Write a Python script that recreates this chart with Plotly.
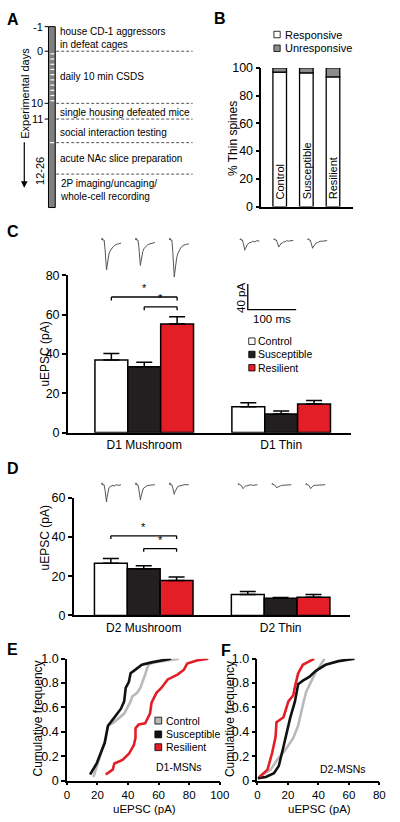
import plotly.graph_objects as go

W, H = 400, 822
FONT = "Liberation Sans, Arial, Helvetica, sans-serif"


def px(x):
    return x / W


def py(y):
    return 1 - y / H


# ------------------------------------------------------------------ data
groups = ["Control", "Susceptible", "Resilient"]
bar_fill = ["#ffffff", "#231f20", "#e41e26"]
cdf_color = ["#b9b9b9", "#111111", "#e41e26"]

# Panel A (schematic timeline)
day_tick_labels = ["-1", "0", "10", "11"]
day_range_label = "12-26"
csds_days = [1, 2, 3, 4, 5, 6, 7, 8, 9, 10]
timeline_events = [
    "house CD-1 aggressors<br>in defeat cages",
    "daily 10 min CSDS",
    "single housing defeated mice",
    "social interaction testing",
    "acute NAc slice preparation",
    "2P imaging/uncaging/<br>whole-cell recording",
]

# Panel B: % thin spines
b_responsive = [97.0, 96.5, 93.5]
b_unresponsive = [3.0, 3.5, 6.5]
b_legend = ["Responsive", "Unresponsive"]

# Panel C: D1 uEPSC (pA)
c_categories = ["D1 Mushroom", "D1 Thin"]
c_mean = [[37.0, 13.2], [33.5, 9.5], [55.3, 14.5]]
c_sem = [[3.3, 2.0], [2.3, 1.5], [3.7, 1.8]]

# Panel D: D2 uEPSC (pA)
d_categories = ["D2 Mushroom", "D2 Thin"]
d_mean = [[26.5, 10.7], [23.7, 8.7], [17.8, 9.2]]
d_sem = [[2.5, 1.5], [1.6, 0.4], [1.7, 1.5]]

# Example uEPSC traces (time in ms, current in pA)
trace_t = [0, 1, 2, 5, 7, 9, 10, 11, 13, 15, 17, 20, 23, 26, 30, 35, 40]
c_mush_traces = [
    [0, 3, 0, 0, -15, -40, -47, -42, -30, -22, -18, -14, -11, -9, -7, -6, -5],
    [0, 3, 0, 0, -12, -34, -40, -35, -25, -18, -14, -11, -9, -7, -6, -5, -4],
    [0, 3, 0, 0, -18, -50, -58, -52, -38, -28, -22, -17, -13, -10, -8, -7, -6],
]
c_thin_traces = [
    [0, 2, 0, 0, -6, -13, -16, -13, -11, -7, -6, -4, -4, -2, -3, -1, -2],
    [0, 2, 0, 0, -4, -9, -11, -9, -8, -5, -5, -3, -3, -1, -2, -1, -1],
    [0, 2, 0, 0, -5, -11, -13, -11, -9, -6, -5, -4, -3, -2, -2, -1, -1],
]
d_mush_traces = [
    [0, 3, 0, 0, -9, -22, -27, -20, -10, -5, -3, -2, -1, -2, 0, -1, 0],
    [0, 3, 0, 0, -8, -20, -24, -20, -13, -8, -5, -3, -2, -1, -1, 0, 0],
    [0, 3, 0, 0, -5, -12, -15, -12, -8, -5, -3, -2, -1, -1, 0, 0, 0],
]
d_thin_traces = [
    [0, 2, 0, 0, -2, -5, -6, -5, -3, -2, -2, -1, -1, 0, -1, 0, 0],
    [0, 2, 0, 0, -2, -4, -5, -4, -3, -2, -2, -1, -1, -1, 0, 0, 0],
    [0, 2, 0, 0, -2, -5, -6, -5, -3, -2, -1, -1, -1, 0, 0, 0, 0],
]
scale_pa = 40
scale_ms = 100

# Panel E: D1-MSNs cumulative distributions
e_x = [
    [17.4, 20, 23, 25.5, 27, 31, 37.5, 41.7, 42.8, 45.9, 48.1, 51.2, 53.3, 57, 68, 73.4],
    [15.2, 19.5, 22.6, 24.8, 25.8, 26.9, 30.0, 32.2, 35.4, 37.5, 38.5, 40.6, 41.7, 43.8, 49.1, 55.4, 61.8, 68.1],
    [25.4, 30, 31.1, 36.4, 40.6, 43.8, 44.9, 44.9, 47, 51.2, 54.4, 55.4, 58.6, 61.8, 66, 72.4, 76.6, 78.7, 85, 92.5],
]
e_y = [
    [0.03, 0.14, 0.25, 0.35, 0.45, 0.48, 0.55, 0.65, 0.69, 0.72, 0.76, 0.87, 0.95, 0.97, 0.99, 1.0],
    [0.05, 0.14, 0.24, 0.31, 0.38, 0.45, 0.50, 0.54, 0.59, 0.65, 0.76, 0.81, 0.88, 0.90, 0.95, 0.97, 0.985, 1.0],
    [0.05, 0.09, 0.14, 0.17, 0.22, 0.29, 0.35, 0.43, 0.46, 0.47, 0.55, 0.64, 0.72, 0.76, 0.83, 0.87, 0.91, 0.96, 0.985, 1.0],
]
# Panel F: D2-MSNs cumulative distributions
f_x = [
    [0.2, 8.7, 12.9, 18.2, 23.5, 26.7, 29.8, 32, 35.1, 38.3, 41.5, 44],
    [0.2, 5.5, 10.8, 14, 17.1, 19.3, 21.4, 24.6, 26.7, 29.8, 34, 38.3, 44.7, 53.2, 63.7],
    [1.3, 6.6, 9.7, 11.9, 12.5, 17.1, 20.3, 23.5, 24.6, 26.7, 29.8, 37.3],
]
f_y = [
    [0.02, 0.09, 0.17, 0.25, 0.35, 0.45, 0.62, 0.73, 0.81, 0.89, 0.95, 1.0],
    [0.02, 0.03, 0.06, 0.12, 0.28, 0.41, 0.51, 0.65, 0.79, 0.82, 0.85, 0.90, 0.95, 0.98, 1.0],
    [0.03, 0.09, 0.23, 0.36, 0.48, 0.52, 0.65, 0.70, 0.77, 0.88, 0.95, 1.0],
]

# ------------------------------------------------------------------ figure
fig = go.Figure()
shapes = []
anns = []


def ann(text, x, y, size=10, xanchor="left", yanchor="middle", angle=0, bold=False, ref=("paper", "paper")):
    anns.append(dict(
        text=f"<b>{text}</b>" if bold else text, x=x, y=y, xref=ref[0], yref=ref[1],
        xanchor=xanchor, yanchor=yanchor, textangle=angle, showarrow=False,
        font=dict(family=FONT, size=size, color="black"), borderpad=0, align="left"))


def pline(x0, y0, x1, y1, color="black", width=1, dash=None):
    shapes.append(dict(type="line", xref="paper", yref="paper", x0=px(x0), y0=py(y0),
                       x1=px(x1), y1=py(y1), line=dict(color=color, width=width, dash=dash)))


def prect(x0, y0, x1, y1, fill, lw=1):
    shapes.append(dict(type="rect", xref="paper", yref="paper", x0=px(x0), y0=py(y0),
                       x1=px(x1), y1=py(y1), fillcolor=fill, line=dict(color="black", width=lw)))


# Panel labels
for lab, (lx, ly) in zip("ABCDEF", [(10, 13), (224, 12), (10, 228), (10, 470), (10, 654), (231, 655)]):
    ann(lab, px(lx), py(ly), size=16, xanchor="center", bold=True)

# ---------------- Panel A
BAR_TOP, BAR_BOT = 20, 204
day_y = [20, 45, 98, 114]
prect(47, BAR_TOP, 54, BAR_BOT, "#808080", lw=1)
for lab, yy in zip(day_tick_labels, day_y):
    pline(43, yy, 47, yy, width=1)
    ann(lab, px(42), py(yy), size=11, xanchor="right")
ann(day_range_label, px(38), py(167), size=11, xanchor="center", angle=-90)
for d in csds_days:
    yy = day_y[1] + (day_y[2] - day_y[1]) * (d - 0.5) / 10
    pline(49, yy, 53, yy, color="white", width=1.2)
pline(48.5, 138, 53, 138, color="white", width=1.2)
for yy in [45, 98, 114, 138, 170]:
    pline(55, yy, 196, yy, color="#555555", width=1, dash="3px,2px")
for txt, yy in zip(timeline_events, [32, 71, 107, 128, 154, 186]):
    ann(txt, px(58), py(yy), size=10)
ann("Experimental days", px(22), py(88), size=11, xanchor="center", angle=-90)
anns.append(dict(x=px(22), y=py(184), xref="paper", yref="paper", ax=0, ay=-47,
                 axref="pixel", ayref="pixel", showarrow=True, arrowhead=2, arrowsize=1.1,
                 arrowwidth=1.2, arrowcolor="black", text=""))

# ---------------- Panel B
bx = [0, 1, 2]
fig.add_trace(go.Bar(x=bx, y=b_responsive, width=0.51, offset=-0.255, xaxis="x", yaxis="y",
                     marker=dict(color="white", line=dict(color="black", width=1.3)), showlegend=False))
fig.add_trace(go.Bar(x=bx, y=b_unresponsive, base=b_responsive, width=0.51, offset=-0.255,
                     xaxis="x", yaxis="y",
                     marker=dict(color="#8c8c8c", line=dict(color="black", width=1.3)), showlegend=False))
for i, g in enumerate(groups):
    ann(g, i, 4.5, size=11, xanchor="center", yanchor="bottom", angle=-90, ref=("x", "y"))
for lab, fillc, yy in zip(b_legend, ["white", "#8c8c8c"], [28, 42]):
    prect(280, yy - 3.3, 286.5, yy + 3.3, fillc, lw=0.8)
    ann(lab, px(290), py(yy), size=11)
ann("% Thin spines", px(237), py(134), size=12, xanchor="center", angle=-90)

# ---------------- Panels C & D (bars)
BARGAP = 0.28
gw = 1 - BARGAP
centers = [-gw / 2 + gw / 3 * (i + 0.5) for i in range(3)]


def bar_panel(xa, ya, means, sems):
    for i, g in enumerate(groups):
        fig.add_trace(go.Bar(
            x=[0, 1], y=means[i], xaxis=xa, yaxis=ya, name=g, showlegend=False,
            marker=dict(color=bar_fill[i], line=dict(color="black", width=1.5)),
            error_y=dict(type="data", symmetric=False, array=sems[i], arrayminus=[0, 0],
                         color="black", thickness=1.5, width=8)))


bar_panel("x2", "y2", c_mean, c_sem)
bar_panel("x3", "y3", d_mean, d_sem)


def bracket(xr, yr, a, b, yv, leg):
    for (x0, y0, x1, y1) in [(a, yv - leg, a, yv), (a, yv, b, yv), (b, yv, b, yv - leg)]:
        shapes.append(dict(type="line", xref=xr, yref=yr, x0=x0, y0=y0, x1=x1, y1=y1,
                           line=dict(color="black", width=1.3)))
    ann("*", (a + b) / 2, yv + leg * 0.6, size=11, xanchor="center", yanchor="bottom", ref=(xr, yr))


bracket("x2", "y2", centers[0], centers[2], 69, 1.8)
bracket("x2", "y2", centers[1], centers[2], 64, 1.8)
bracket("x3", "y3", centers[0], centers[2], 40.5, 1.6)
bracket("x3", "y3", centers[1], centers[2], 34, 1.6)

ann("uEPSC (pA)", px(43), py(353), size=12, xanchor="center", angle=-90)
ann("uEPSC (pA)", px(43), py(540), size=12, xanchor="center", angle=-90)

# legend C
for i, g in enumerate(groups):
    yy = [340, 353.5, 367][i]
    prect(254, yy - 3.3, 260.5, yy + 3.3, bar_fill[i], lw=0.8)
    ann(g, px(263), py(yy), size=10.5)

# ---------------- example traces
c_offsets = [70, 140, 210, 356, 426, 496]
d_offsets = [70, 140, 210, 352, 422, 492]
for offs, trs, xa, ya in [(c_offsets, c_mush_traces + c_thin_traces, "x6", "y6"),
                          (d_offsets, d_mush_traces + d_thin_traces, "x7", "y7")]:
    for o, tr in zip(offs, trs):
        fig.add_trace(go.Scatter(x=[o + t for t in trace_t], y=tr, mode="lines", xaxis=xa, yaxis=ya,
                                 line=dict(color="#555555", width=1), showlegend=False,
                                 hoverinfo="skip"))
SB_X, SB_Y = 372, -109
fig.add_trace(go.Scatter(x=[SB_X, SB_X, SB_X + scale_ms], y=[SB_Y + scale_pa, SB_Y, SB_Y],
                         mode="lines", xaxis="x6", yaxis="y6",
                         line=dict(color="black", width=1.3), showlegend=False))
ann(f"{scale_pa} pA", px(246), py(296), size=11.5, xanchor="center", angle=-90)
ann(f"{scale_ms} ms", px(278), py(317), size=11.5, xanchor="center")

# ---------------- Panels E & F
for xa, ya, xs, ys in [("x4", "y4", e_x, e_y), ("x5", "y5", f_x, f_y)]:
    for i, g in enumerate(groups):
        fig.add_trace(go.Scatter(x=xs[i], y=ys[i], mode="lines", xaxis=xa, yaxis=ya, name=g,
                                 line=dict(color=cdf_color[i], width=2.6), showlegend=False))
for i, g in enumerate(groups):
    yy = [726, 740, 753][i]
    prect(157, yy - 3.5, 164, yy + 3.5, cdf_color[i], lw=0.8)
    ann(g, px(167), py(yy), size=10.5)
ann("D1-MSNs", px(157), py(773), size=10.5)
ann("D2-MSNs", px(327), py(775), size=10.5)
ann("Cumulative frequency", px(36), py(724), size=12, xanchor="center", angle=-90)
ann("Cumulative frequency", px(234), py(724), size=12, xanchor="center", angle=-90)
ann("uEPSC (pA)", px(146), py(816), size=11.5, xanchor="center")
ann("uEPSC (pA)", px(327), py(816), size=11.5, xanchor="center")

# ------------------------------------------------------------------ axes
tickfont = dict(family=FONT, size=12.5, color="black")
base_axis = dict(showgrid=False, zeroline=False, showline=True, linecolor="black", linewidth=1.5,
                 ticks="outside", ticklen=4, tickwidth=1.5, tickcolor="black",
                 tickfont=tickfont, fixedrange=True)
hidden = dict(visible=False, fixedrange=True, showgrid=False, zeroline=False)
small_tf = dict(family=FONT, size=12, color="black")
xs_tf = dict(family=FONT, size=11.5, color="black")

layout_axes = dict(
    xaxis=dict(base_axis, domain=[px(267), px(362)], range=[-0.69, 2.76], ticks="",
               showticklabels=False, anchor="y"),
    yaxis=dict(base_axis, domain=[py(203), py(62)], range=[0, 100], tickvals=[0, 20, 40, 60, 80, 100],
               anchor="x"),
    xaxis2=dict(base_axis, domain=[px(67), px(360)], range=[-0.558, 1.512], ticks="",
                tickvals=[0, 1], ticktext=c_categories, anchor="y2", tickfont=small_tf),
    yaxis2=dict(base_axis, domain=[py(433), py(273)], range=[0, 80], tickvals=[0, 20, 40, 60, 80],
                anchor="x2"),
    xaxis3=dict(base_axis, domain=[px(73), px(359)], range=[-0.512, 1.509], ticks="",
                tickvals=[0, 1], ticktext=d_categories, anchor="y3", tickfont=small_tf),
    yaxis3=dict(base_axis, domain=[py(619), py(499)], range=[0, 60], tickvals=[0, 20, 40, 60],
                anchor="x3"),
    xaxis4=dict(base_axis, domain=[px(66), px(224)], range=[0, 100], tickvals=[0, 20, 40, 60, 80, 100],
                anchor="y4", tickfont=xs_tf, ticklen=3),
    yaxis4=dict(base_axis, domain=[py(787), py(663)], range=[0, 1],
                tickvals=[0, 0.2, 0.4, 0.6, 0.8, 1.0], ticktext=["0", "0.2", "0.4", "0.6", "0.8", "1.0"],
                anchor="x4"),
    xaxis5=dict(base_axis, domain=[px(263), px(389)], range=[0, 80], tickvals=[0, 20, 40, 60, 80],
                anchor="y5", tickfont=xs_tf, ticklen=3),
    yaxis5=dict(base_axis, domain=[py(787), py(663)], range=[0, 1],
                tickvals=[0, 0.2, 0.4, 0.6, 0.8, 1.0], ticktext=["0", "0.2", "0.4", "0.6", "0.8", "1.0"],
                anchor="x5"),
    xaxis6=dict(hidden, domain=[px(67), px(360)], range=[0, 586], anchor="y6"),
    yaxis6=dict(hidden, domain=[py(320), py(228)], range=[-127.7, 13.85], anchor="x6"),
    xaxis7=dict(hidden, domain=[px(67), px(360)], range=[0, 586], anchor="y7"),
    yaxis7=dict(hidden, domain=[py(510), py(476)], range=[-36.9, 15.4], anchor="x7"),
)

fig.update_layout(
    width=W, height=H, margin=dict(l=0, r=0, t=0, b=0),
    paper_bgcolor="white", plot_bgcolor="rgba(0,0,0,0)",
    barmode="group", bargap=BARGAP, bargroupgap=0,
    font=dict(family=FONT, size=11, color="black"),
    showlegend=False, shapes=shapes, annotations=anns,
    **layout_axes,
)

fig.write_html("out.html", config={"displayModeBar": False},
               post_script="document.body.style.margin='0px';document.body.style.overflow='hidden';")
